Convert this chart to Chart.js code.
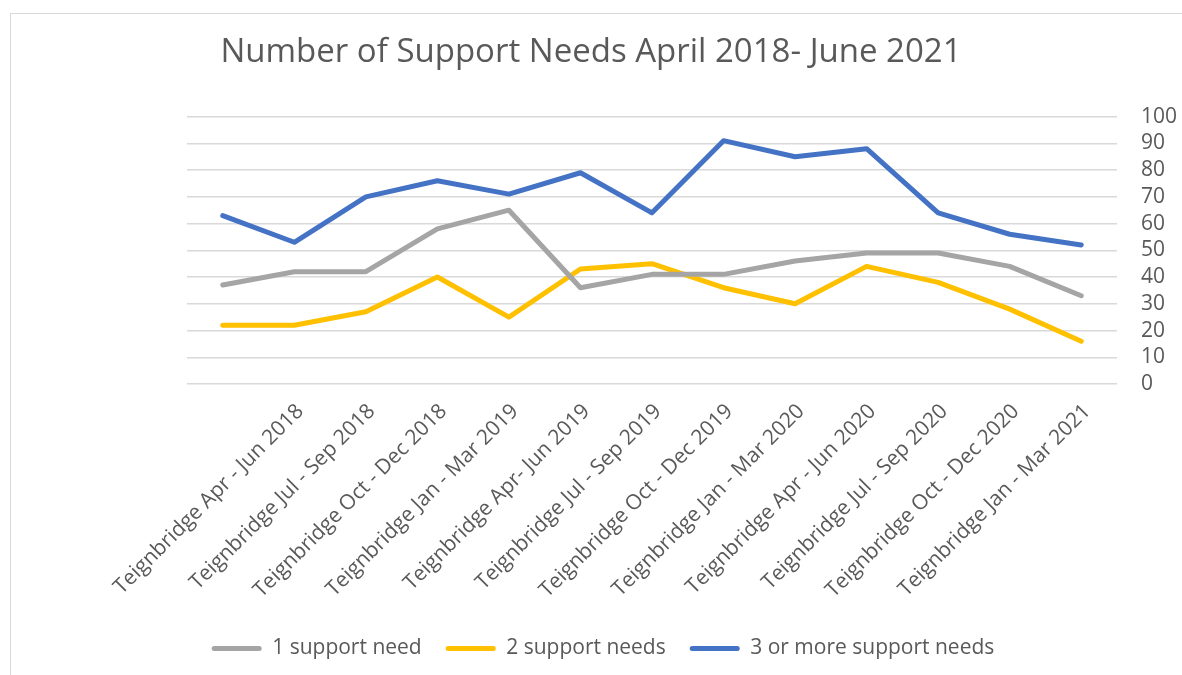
<!DOCTYPE html>
<html>
<head>
<meta charset="utf-8">
<script src="https://cdn.jsdelivr.net/npm/chart.js@4"></script>
<style>
  html, body { margin: 0; padding: 0; background: #ffffff; overflow: hidden; }
  #wrap { position: relative; width: 1182px; height: 675px; }
  #frame { position: absolute; left: 10px; top: 13px; width: 1200px; height: 700px; border: 1px solid #d9d9d9; box-sizing: border-box; pointer-events: none; }
  canvas { position: absolute; left: 0; top: 0; }
</style>
</head>
<body>
<div id="wrap">
  <canvas id="c" width="1182" height="675"></canvas>
  <div id="frame"></div>
</div>
<script>
const chartTitle = "Number of Support Needs April 2018- June 2021";
const categories = [
  "",
  "Teignbridge Apr - Jun 2018",
  "Teignbridge Jul - Sep 2018",
  "Teignbridge Oct - Dec 2018",
  "Teignbridge Jan - Mar 2019",
  "Teignbridge Apr- Jun 2019",
  "Teignbridge Jul - Sep 2019",
  "Teignbridge Oct - Dec 2019",
  "Teignbridge Jan - Mar 2020",
  "Teignbridge Apr - Jun 2020",
  "Teignbridge Jul - Sep 2020",
  "Teignbridge Oct - Dec 2020",
  "Teignbridge Jan - Mar 2021"
];
const seriesNames = ["1 support need", "2 support needs", "3 or more support needs"];
const oneNeed   = [37, 42, 42, 58, 65, 36, 41, 41, 46, 49, 49, 44, 33];
const twoNeeds  = [22, 22, 27, 40, 25, 43, 45, 36, 30, 44, 38, 28, 16];
const threePlus = [63, 53, 70, 76, 71, 79, 64, 91, 85, 88, 64, 56, 52];
const yTicks = [0, 10, 20, 30, 40, 50, 60, 70, 80, 90, 100];

const FONT = "'Open Sans', 'Noto Sans', sans-serif";
const TXT = "#595959";

function ds(label, data, color) {
  return {
    label: label, data: data, borderColor: color, backgroundColor: color,
    borderWidth: 5, pointRadius: 0, pointHoverRadius: 0, tension: 0,
    borderCapStyle: 'round', borderJoinStyle: 'round', fill: false, yAxisID: 'y'
  };
}

const legendShift = {
  id: 'legendShift',
  afterLayout(chart) {
    if (chart.legend) { chart.legend.left += 12; chart.legend.right += 12; }
  }
};

new Chart(document.getElementById('c'), {
  type: 'line',
  data: {
    labels: categories,
    datasets: [
      ds(seriesNames[0], oneNeed, '#a5a5a5'),
      ds(seriesNames[1], twoNeeds, '#ffc000'),
      ds(seriesNames[2], threePlus, '#4472c4')
    ]
  },
  plugins: [legendShift],
  options: {
    responsive: false,
    animation: false,
    devicePixelRatio: 1,
    layout: { padding: { left: 0, right: 0, top: 0, bottom: 6 } },
    plugins: {
      title: {
        display: true, text: chartTitle, color: TXT,
        font: { family: FONT, size: 33, weight: 'normal', lineHeight: 1.2 },
        padding: { top: 33, bottom: 44 }
      },
      legend: {
        display: true, position: 'bottom',
        labels: {
          color: TXT, font: { family: FONT, size: 21 },
          boxWidth: 50, boxHeight: 5, padding: 24, useBorderRadius: true, borderRadius: 2.5,
          generateLabels: (chart) => chart.data.datasets.map((d, i) => ({
            text: d.label, fillStyle: d.borderColor, strokeStyle: d.borderColor,
            lineWidth: 0, hidden: false, datasetIndex: i, fontColor: TXT, borderRadius: 2.5
          }))
        }
      },
      tooltip: { enabled: false }
    },
    scales: {
      x: {
        offset: true,
        grid: { display: false },
        border: { display: false },
        ticks: {
          color: TXT, font: { family: FONT, size: 21 },
          autoSkip: false, maxRotation: 45, minRotation: 45, padding: 7, labelOffset: 6
        },
        afterFit: (s) => { s.height = 230; }
      },
      yLeft: {
        position: 'left', display: true,
        grid: { display: false }, border: { display: false },
        ticks: { display: false },
        afterFit: (s) => { s.width = 187; }
      },
      y: {
        position: 'right', min: 0, max: 100,
        grid: { color: '#d9d9d9', lineWidth: 1.5, drawTicks: false },
        border: { display: false },
        afterBuildTicks: (s) => { s.ticks = yTicks.map(v => ({ value: v })); },
        ticks: { color: TXT, font: { family: FONT, size: 21 }, padding: 24, autoSkip: false },
        afterFit: (s) => { s.width = 65; }
      }
    }
  }
});
</script>
</body>
</html>
